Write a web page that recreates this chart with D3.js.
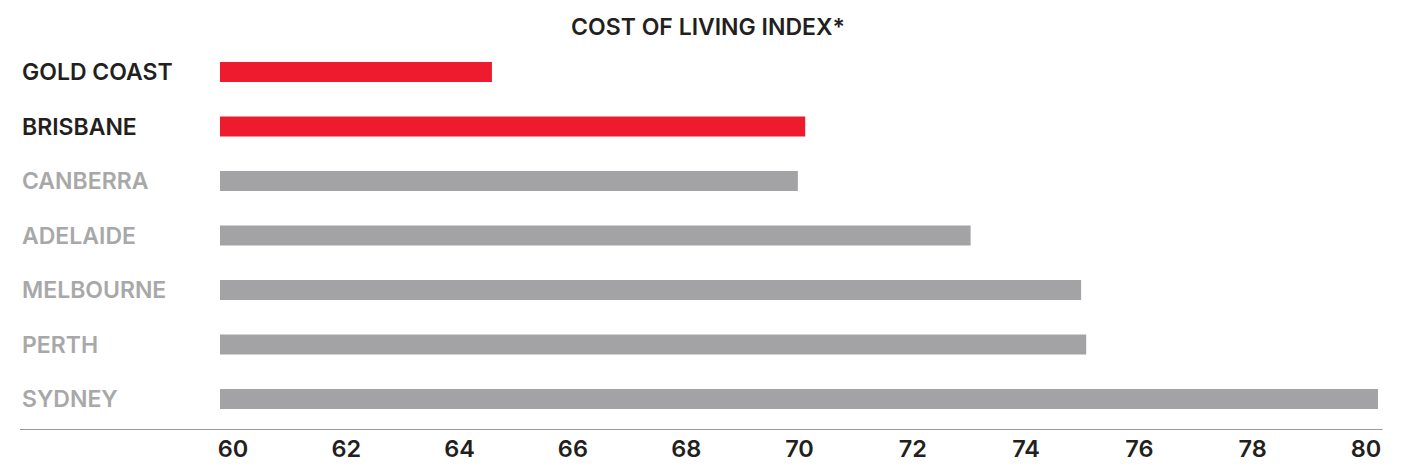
<!DOCTYPE html>
<html>
<head>
<meta charset="utf-8">
<script src="https://cdn.jsdelivr.net/npm/d3@7"></script>
<style>
  body { margin: 0; background: #fff; }
  svg text { font-family: Inter, Roboto, "Liberation Sans", sans-serif; font-weight: 600; }
</style>
</head>
<body>
<div class="chart"></div>
<script>
// data
const cities = ['GOLD COAST', 'BRISBANE', 'CANBERRA', 'ADELAIDE', 'MELBOURNE', 'PERTH', 'SYDNEY']
const index = [64.58, 70.11, 69.98, 73.03, 74.98, 75.07, 80.22]
const highlight = ['GOLD COAST', 'BRISBANE']
const tickValues = [60, 62, 64, 66, 68, 70, 72, 74, 76, 78, 80]

const width = 1414,
      height = 472

var svg = d3.select('.chart').append('svg')
  .attr('width', width)
  .attr('height', height)

// bars start a touch left of the 60 label, like the original
var x = d3.scaleLinear()
  .domain([59.78, 80.3])
  .range([220, 1382.5])

var y = d3.scaleBand()
  .domain(cities)
  .range([44.75, 426.25])
  .paddingInner(0.633)
  .paddingOuter(0.3165)

// title
svg.append('text')
  .attr('x', 708)
  .attr('y', 35)
  .attr('text-anchor', 'middle')
  .attr('fill', '#231f20')
  .attr('font-size', 23)
  .text('COST OF LIVING INDEX*')

// bars
svg.append('g')
  .selectAll('rect')
  .data(cities)
  .join('rect')
    .attr('x', x(x.domain()[0]))
    .attr('y', d => y(d))
    .attr('width', (d, i) => x(index[i]) - x(x.domain()[0]))
    .attr('height', y.bandwidth())
    .attr('fill', d => highlight.includes(d) ? '#ee1b2e' : '#a3a3a5')

// city labels
svg.append('g')
  .selectAll('text')
  .data(cities)
  .join('text')
    .attr('x', 22)
    .attr('y', d => y(d) + y.bandwidth() / 2)
    .attr('dy', '0.36em')
    .attr('font-size', 23)
    .attr('fill', d => highlight.includes(d) ? '#231f20' : '#a8a8a8')
    .text(d => d)

// baseline
svg.append('line')
  .attr('x1', 20)
  .attr('x2', x.range()[1])
  .attr('y1', 429.5)
  .attr('y2', 429.5)
  .attr('stroke', '#999')
  .attr('stroke-width', 1)

// x axis
var xAxis = d3.axisBottom(x)
  .tickValues(tickValues)
  .tickSize(0)
  .tickFormat(d3.format('d'))

var gx = svg.append('g')
  .attr('transform', 'translate(0,429.5)')
  .call(xAxis)
gx.select('.domain').remove()
gx.selectAll('.tick text')
  .attr('y', 27.5)
  .attr('dy', 0)
  .attr('font-size', 23.5)
  .attr('font-family', 'Inter, Roboto, sans-serif')
  .attr('fill', '#231f20')
</script>
</body>
</html>
